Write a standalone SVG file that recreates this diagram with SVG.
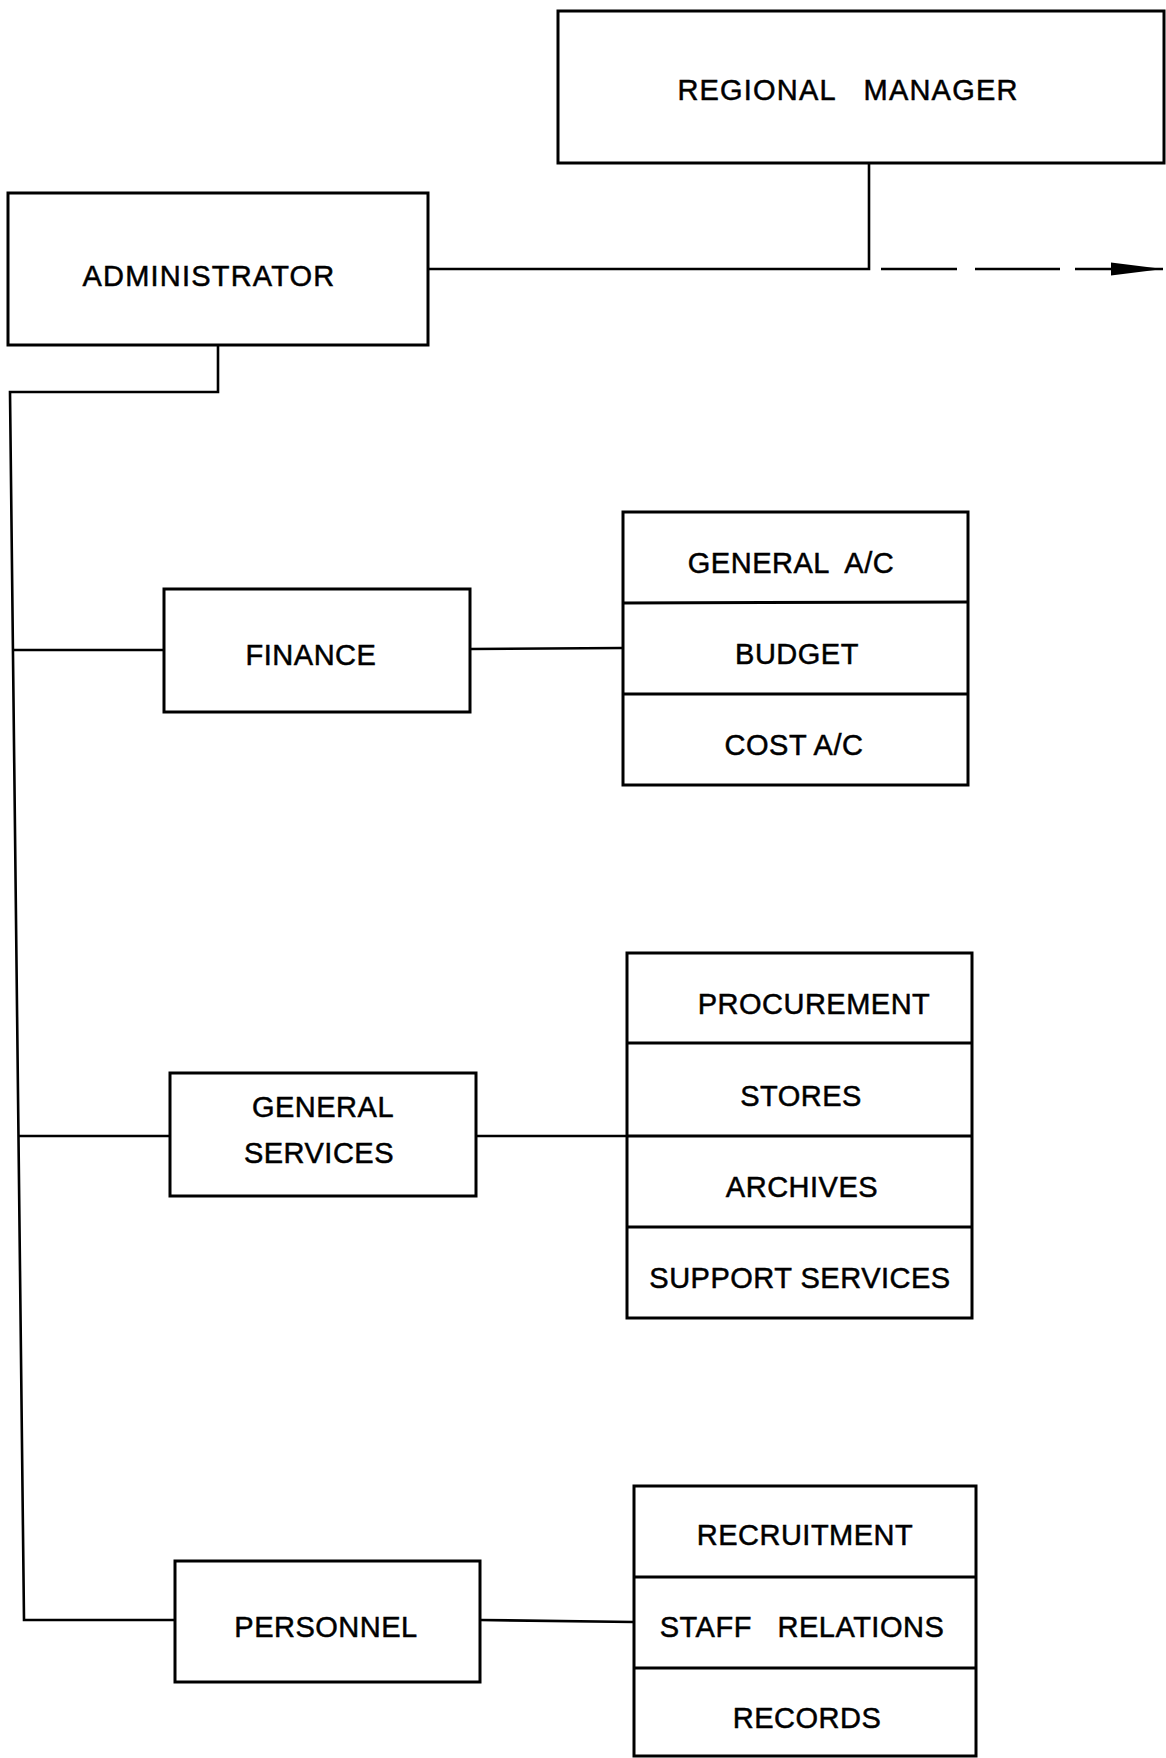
<svg xmlns="http://www.w3.org/2000/svg" width="1166" height="1758" viewBox="0 0 1166 1758">
<style>
  .box { fill: #fff; stroke: #000; stroke-width: 3; }
  .div { stroke: #000; stroke-width: 3; }
  .ln { fill: none; stroke: #000; stroke-width: 2.6; }
  .t { font-family: "Liberation Sans", Arial, sans-serif; font-size: 29px; letter-spacing: 0.5px; fill: #000; stroke: #000; stroke-width: 0.5; text-anchor: middle; }
  .w { letter-spacing: 1.2px; }
</style>
<defs>
  <marker id="arr" markerUnits="userSpaceOnUse" markerWidth="54" markerHeight="14" refX="52" refY="7" orient="auto">
    <path d="M0,0.5 L52,7 L0,13.5 z" fill="#000"/>
  </marker>
</defs>
<rect width="1166" height="1758" fill="#fff"/>

<g id="connectors">
  <polyline class="ln" points="427,269 869,269 869,163"/>
  <line class="ln" x1="881" y1="269" x2="957" y2="269"/>
  <line class="ln" x1="975" y1="269" x2="1060" y2="269"/>
  <line class="ln" x1="1075" y1="269" x2="1163" y2="269" marker-end="url(#arr)"/>
  <polyline class="ln" points="218,345 218,392 10,392 24,1620 175,1620"/>
  <line class="ln" x1="13" y1="650" x2="164" y2="650"/>
  <line class="ln" x1="470" y1="649" x2="623" y2="648"/>
  <line class="ln" x1="18" y1="1136" x2="170" y2="1136"/>
  <line class="ln" x1="476" y1="1136" x2="628" y2="1136"/>
  <line class="ln" x1="480" y1="1620" x2="634" y2="1622"/>
</g>

<g id="regional-manager">
  <rect class="box" x="558" y="11" width="606" height="152"/>
  <text class="t w" x="848" y="100" xml:space="preserve">REGIONAL   MANAGER</text>
</g>

<g id="administrator">
  <rect class="box" x="8" y="193" width="420" height="152"/>
  <text class="t w" x="209" y="286">ADMINISTRATOR</text>
</g>

<g id="finance">
  <rect class="box" x="164" y="589" width="306" height="123"/>
  <text class="t" x="311" y="665">FINANCE</text>
</g>

<g id="finance-units">
  <rect class="box" x="623" y="512" width="345" height="273"/>
  <line class="div" x1="623" y1="603" x2="968" y2="602"/>
  <line class="div" x1="623" y1="694" x2="968" y2="694"/>
  <text class="t" x="791" y="573" xml:space="preserve">GENERAL  A/C</text>
  <text class="t" x="797" y="664">BUDGET</text>
  <text class="t" x="794" y="755">COST A/C</text>
</g>

<g id="general-services">
  <rect class="box" x="170" y="1073" width="306" height="123"/>
  <text class="t" x="323" y="1117">GENERAL</text>
  <text class="t" x="319" y="1163">SERVICES</text>
</g>

<g id="general-services-units">
  <rect class="box" x="627" y="953" width="345" height="365"/>
  <line class="div" x1="627" y1="1043" x2="972" y2="1043"/>
  <line class="div" x1="627" y1="1136" x2="972" y2="1136"/>
  <line class="div" x1="627" y1="1227" x2="972" y2="1227"/>
  <text class="t" x="814" y="1014">PROCUREMENT</text>
  <text class="t" x="801" y="1106">STORES</text>
  <text class="t" x="802" y="1197">ARCHIVES</text>
  <text class="t" x="800" y="1288">SUPPORT SERVICES</text>
</g>

<g id="personnel">
  <rect class="box" x="175" y="1561" width="305" height="121"/>
  <text class="t" x="326" y="1637">PERSONNEL</text>
</g>

<g id="personnel-units">
  <rect class="box" x="634" y="1486" width="342" height="270"/>
  <line class="div" x1="634" y1="1577" x2="976" y2="1577"/>
  <line class="div" x1="634" y1="1668" x2="976" y2="1668"/>
  <text class="t" x="805" y="1545">RECRUITMENT</text>
  <text class="t" x="802" y="1637" xml:space="preserve">STAFF   RELATIONS</text>
  <text class="t" x="807" y="1728">RECORDS</text>
</g>
</svg>
